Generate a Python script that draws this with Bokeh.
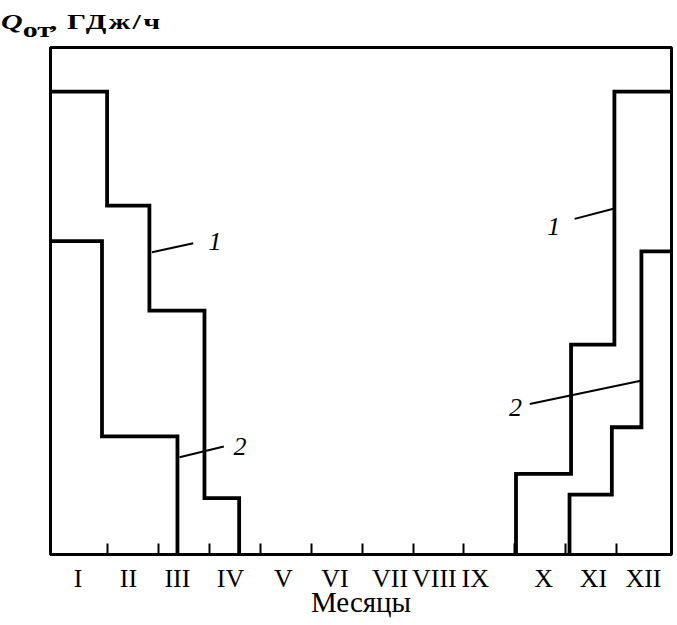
from bokeh.plotting import figure
from bokeh.models import Range1d, FixedTicker, Label, Div
from bokeh.layouts import column
from bokeh.embed import file_html
from bokeh.resources import INLINE

# ---------------- data ----------------
months = ["I", "II", "III", "IV", "V", "VI", "VII", "VIII", "IX", "X", "XI", "XII"]
month_bounds = [1, 2, 3, 4, 5, 6, 7, 8, 9, 10, 11]          # boundaries between months
month_label_pos = [0.43, 1.42, 2.38, 3.42, 4.46, 5.47, 6.55, 7.42, 8.22, 9.56, 10.54, 11.52]

X_START, X_END = -0.11, 12.07      # axis limits (months)

# curve 1: start of year (edges in months, values Q_от relative)
c1_spring_edges = [X_START, 1.00, 1.83, 2.91, 3.59]
c1_spring_values = [91.3, 68.8, 48.1, 11.1]
# curve 1: end of year
c1_autumn_edges = [9.02, 10.10, 10.95, X_END]
c1_autumn_values = [15.9, 41.4, 91.3]
# curve 2: start of year
c2_spring_edges = [X_START, 0.90, 2.38]
c2_spring_values = [61.8, 23.3]
# curve 2: end of year
c2_autumn_edges = [10.07, 10.90, 11.48, X_END]
c2_autumn_values = [11.8, 25.1, 59.8]

# curve labels: text, leader start (x, y), leader end (x, y), text anchor (x, y), align
curve_labels = ["1", "2", "1", "2"]
leader_x0 = [1.88, 2.42, 10.93, 11.49]
leader_y0 = [59.6, 19.2, 68.2, 34.3]
leader_x1 = [2.69, 3.29, 10.17, 9.29]
leader_y1 = [61.4, 21.3, 66.2, 29.7]
label_x = [2.99, 3.48, 9.89, 9.14]
label_y = [61.8, 21.3, 64.7, 28.9]
label_align = ["left", "left", "right", "right"]

y_title_html = ('<div style="height:45px;box-sizing:border-box;padding:12px 0 0 1px;margin:0;'
                'font-family:\'Liberation Serif\';font-weight:bold;font-size:20px;'
                'line-height:20px;color:black;white-space:nowrap;">'
                '<span style="display:inline-block;transform:scaleX(1.5);transform-origin:0 0;">'
                '<span style="font-style:italic;">Q</span>'
                '<span style="position:relative;top:8px;">от</span>'
                ',<span style="letter-spacing:1.5px;"> ГДж/ч</span></span></div>')
x_title = "Месяцы"


def step_path(edges, values, rise_from_zero, drop_to_zero):
    xs, ys = [], []
    if rise_from_zero:
        xs.append(edges[0]); ys.append(0)
    for i, v in enumerate(values):
        xs += [edges[i], edges[i + 1]]
        ys += [v, v]
    if drop_to_zero:
        xs.append(edges[-1]); ys.append(0)
    return xs, ys


# ---------------- figure ----------------
p = figure(width=677, height=580,
           x_range=Range1d(X_START, X_END), y_range=Range1d(0, 100),
           output_backend="svg", toolbar_location=None, y_axis_location=None,
           min_border_left=50, min_border_right=6, min_border_top=2, min_border_bottom=71,
           margin=(0, 0, 0, 0))
p.grid.visible = False
p.outline_line_color = "black"
p.outline_line_width = 3
p.background_fill_color = "white"
p.border_fill_color = "white"

xa = p.xaxis[0]
xa.ticker = FixedTicker(ticks=month_label_pos, minor_ticks=month_bounds)
xa.major_label_overrides = {pos: m for pos, m in zip(month_label_pos, months)}
xa.major_tick_line_color = None
xa.major_tick_in = 0
xa.major_tick_out = 0
xa.minor_tick_in = 11
xa.minor_tick_out = 0
xa.minor_tick_line_width = 2
xa.minor_tick_line_color = "black"
xa.axis_line_width = 3
xa.axis_line_color = "black"
xa.major_label_text_font = "Liberation Serif"
xa.major_label_text_font_size = "26px"
xa.major_label_text_color = "black"
xa.major_label_standoff = 9
xa.axis_label = x_title
xa.axis_label_text_font = "Liberation Serif"
xa.axis_label_text_font_size = "29px"
xa.axis_label_text_font_style = "normal"
xa.axis_label_text_color = "black"
xa.axis_label_standoff = -10

LW = 3.8
for edges, vals, rise, drop in [
    (c1_spring_edges, c1_spring_values, False, True),
    (c1_autumn_edges, c1_autumn_values, True, False),
    (c2_spring_edges, c2_spring_values, False, True),
    (c2_autumn_edges, c2_autumn_values, True, False),
]:
    xs, ys = step_path(edges, vals, rise, drop)
    p.line(xs, ys, line_color="black", line_width=LW, line_join="miter")

p.segment(x0=leader_x0, y0=leader_y0, x1=leader_x1, y1=leader_y1,
          line_color="black", line_width=2)

for t, x, y, a in zip(curve_labels, label_x, label_y, label_align):
    p.add_layout(Label(x=x, y=y, text=t, text_align=a, text_baseline="middle",
                       text_font="Liberation Serif", text_font_style="italic",
                       text_font_size="26px", text_color="black"))

title_div = Div(text=y_title_html, width=677, height=45, margin=(0, 0, 0, 0))

layout = column(title_div, p, spacing=0)
open("out.html", "w").write(file_html(layout, INLINE))
